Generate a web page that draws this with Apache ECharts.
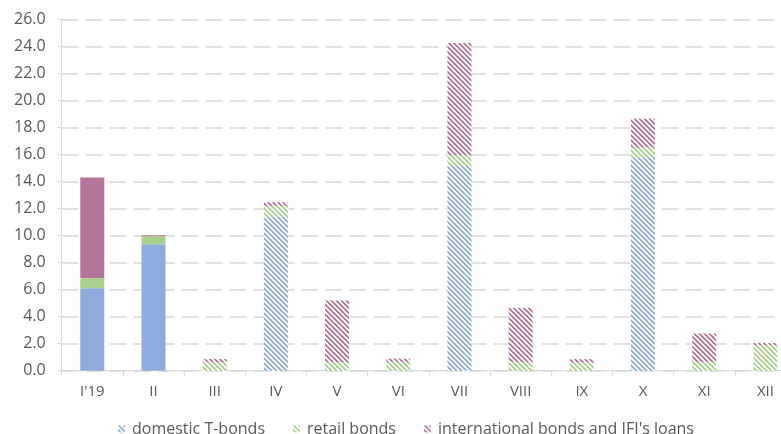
<!DOCTYPE html>
<html>
<head>
<meta charset="utf-8">
<script src="https://cdn.jsdelivr.net/npm/echarts@6/dist/echarts.min.js"></script>
<style>
  html, body { margin: 0; padding: 0; background: #fff; }
  #chart { width: 781px; height: 434px; }
</style>
</head>
<body>
<div id="chart"></div>
<script>
// Monthly borrowing by instrument
const months = ["I'19", 'II', 'III', 'IV', 'V', 'VI', 'VII', 'VIII', 'IX', 'X', 'XI', 'XII'];
const domesticTBonds = [6.1, 9.35, 0, 11.4, 0, 0, 15.15, 0, 0, 15.75, 0, 0];
const retailBonds = [0.75, 0.6, 0.62, 0.8, 0.65, 0.65, 0.8, 0.65, 0.6, 0.75, 0.65, 1.9];
const internationalBonds = [7.45, 0.07, 0.24, 0.27, 4.55, 0.25, 8.3, 4.0, 0.25, 2.15, 2.1, 0.15];
const yTicks = [0, 26, 2];
const seriesNames = ['domestic T-bonds', 'retail bonds', "international bonds and IFI's loans"];
const colors = ['#8FAADC', '#A9D18E', '#B5759A'];
// Months that are drawn with solid fill instead of hatching
const solidCount = 2;

// Downward diagonal stripe tile
function hatch(hex) {
  const size = 5;
  const c = document.createElement('canvas');
  c.width = size; c.height = size;
  const ctx = c.getContext('2d');
  const img = ctx.createImageData(size, size);
  const rgb = [1, 3, 5].map(o => parseInt(hex.slice(o, o + 2), 16));
  for (let y = 0; y < size; y++) {
    for (let x = 0; x < size; x++) {
      const d = ((x - y) % size + size) % size;
      const a = d < 2 ? 1 : (d === 2 ? 0.5 : 0);
      const i = (y * size + x) * 4;
      for (let k = 0; k < 3; k++) img.data[i + k] = Math.round(rgb[k] * a + 255 * (1 - a));
      img.data[i + 3] = 255;
    }
  }
  ctx.putImageData(img, 0, 0);
  return { image: c, repeat: 'repeat' };
}

function build(values, color) {
  return values.map((v, i) => i < solidCount ? { value: v, itemStyle: { color: color } } : v);
}

const chart = echarts.init(document.getElementById('chart'), null, { renderer: 'canvas' });
const fontFamily = 'Open Sans, sans-serif';
const seriesData = [domesticTBonds, retailBonds, internationalBonds];

chart.setOption({
  animation: false,
  textStyle: { fontFamily: fontFamily },
  grid: { left: 61.7, right: -15, top: 19.3, bottom: 63.3, outerBoundsMode: 'none', containLabel: false },
  legend: {
    left: 113, top: 416,
    icon: 'rect', itemWidth: 7, itemHeight: 7, itemGap: 28,
    textStyle: { fontSize: 16, color: '#595959', padding: [0, 0, 0, 2] },
    data: seriesNames
  },
  xAxis: {
    type: 'category',
    data: months,
    axisLine: { lineStyle: { color: '#D9D9D9', width: 1 } },
    axisTick: { show: true, length: 5, lineStyle: { color: '#D9D9D9' } },
    axisLabel: { color: '#595959', fontSize: 15, margin: 14 }
  },
  yAxis: {
    type: 'value',
    min: yTicks[0], max: yTicks[1], interval: yTicks[2],
    axisLine: { show: true, lineStyle: { color: '#D9D9D9' } },
    axisTick: { show: true, length: 4, lineStyle: { color: '#D9D9D9' } },
    axisLabel: { color: '#595959', fontSize: 16, margin: 16, formatter: v => v.toFixed(1) },
    splitLine: { lineStyle: { color: '#D9D9D9', width: 1.5, type: [17, 7] } }
  },
  series: seriesData.map((vals, k) => ({
    name: seriesNames[k],
    type: 'bar',
    stack: 'total',
    barWidth: 24,
    itemStyle: { color: hatch(colors[k]) },
    data: build(vals, colors[k])
  }))
});
</script>
</body>
</html>
